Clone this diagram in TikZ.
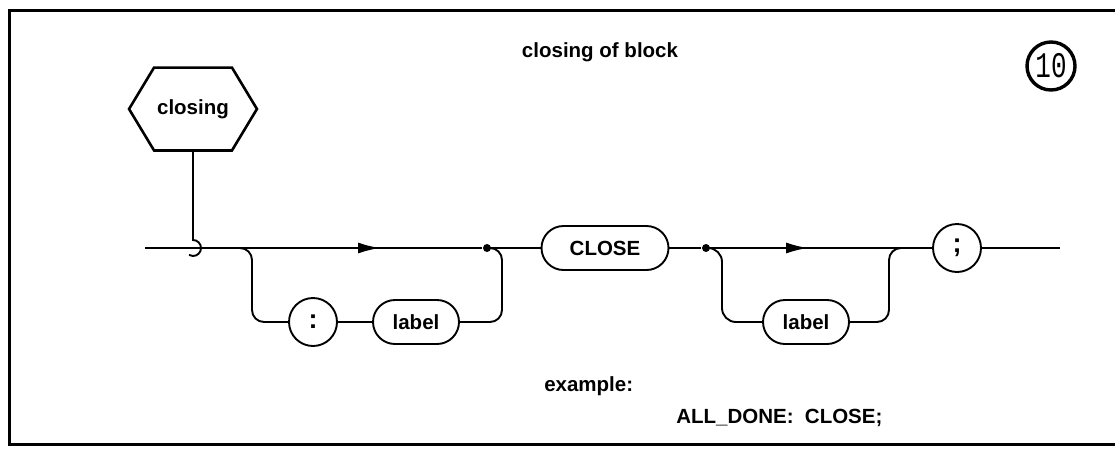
\documentclass[tikz,border=0pt]{standalone}
\usepackage{fontspec}
\setmainfont{Liberation Sans}
\newfontfamily\monof{Liberation Mono}
\usetikzlibrary{shapes.misc,arrows.meta}
\begin{document}
\begin{tikzpicture}[x=1pt,y=-1pt, line width=1.9pt,
  lab/.style={font=\fontsize{20.5}{24}\selectfont\bfseries},
  big/.style={font=\fontsize{27}{30}\selectfont\bfseries},
  pill/.style={draw, rounded rectangle, minimum height=44pt, inner sep=0pt, lab},
  term/.style={draw, circle, minimum size=48pt, inner sep=0pt, big},
  arr/.style={-{Latex[length=22pt,width=11pt]}},
  dotn/.style={circle, fill, inner sep=0pt, minimum size=8pt},
]
\useasboundingbox (0,0) rectangle (1115,448);
\draw[line width=3pt] (1115,10) -- (9,10) -- (9,444) -- (1115,444);

\node[lab] (title) at (600,52) {closing of block};
\node[circle, draw, line width=3.4pt, minimum size=48pt, inner sep=0pt] (num) at (1051,66)
  {\monof\fontsize{36}{36}\selectfont\scalebox{0.72}[1]{10}};

\node[lab, minimum width=126pt, minimum height=81pt, inner sep=0pt] (hex) at (193,109) {closing};
\draw[line width=2.6pt] (hex.west) -- ([xshift=25pt]hex.north west) -- ([xshift=-25pt]hex.north east)
  -- (hex.east) -- ([xshift=-25pt]hex.south east) -- ([xshift=25pt]hex.south west) -- cycle;

\coordinate (start) at (145,248);
\coordinate (hook) at (193,240);
\coordinate (a1) at (380,248);
\coordinate (a2) at (808,248);
\coordinate (end) at (1060,248);
\node[dotn] (d1) at (487,248) {};
\node[pill, minimum width=127pt] (close) at (605,248) {CLOSE};
\node[dotn] (d2) at (706,248) {};
\node[term] (semi) at (957,248) {;};
\node[term] (colon) at (313,322) {:};
\node[pill, minimum width=86pt] (lab1) at (416,322) {label};
\node[pill, minimum width=86pt] (lab2) at (806,322) {label};

\draw (hex.south) -- (hook) arc[start angle=90, end angle=-120, radius=8pt];
\draw[line width=2.8pt] (start) -- (182,248);
\draw (start) -- (d1) -- (close.west);
\draw[arr] (start) -- (a1);
\draw[rounded corners=12pt] (230,248) -- (252,248) -- (252,322) -- (colon.west);
\draw (colon) -- (lab1);
\draw[rounded corners=12pt] (lab1.east) -- (502,322) -- (502,248) -- (d1);
\draw (close.east) -- (d2) -- (semi.west);
\draw[arr] (d2) -- (a2);
\draw[rounded corners=14pt] (d2) -- (722,248) -- (722,322) -- (lab2.west);
\draw[rounded corners=12pt] (lab2.east) -- (889,322) -- (889,248) -- (905,248);
\draw (semi.east) -- (end);

\node[lab, anchor=west] (ex) at (540,386) {example:};
\node[lab, anchor=west] (code) at (672,418) {ALL\_DONE:\ \ CLOSE;};
\end{tikzpicture}
\end{document}
